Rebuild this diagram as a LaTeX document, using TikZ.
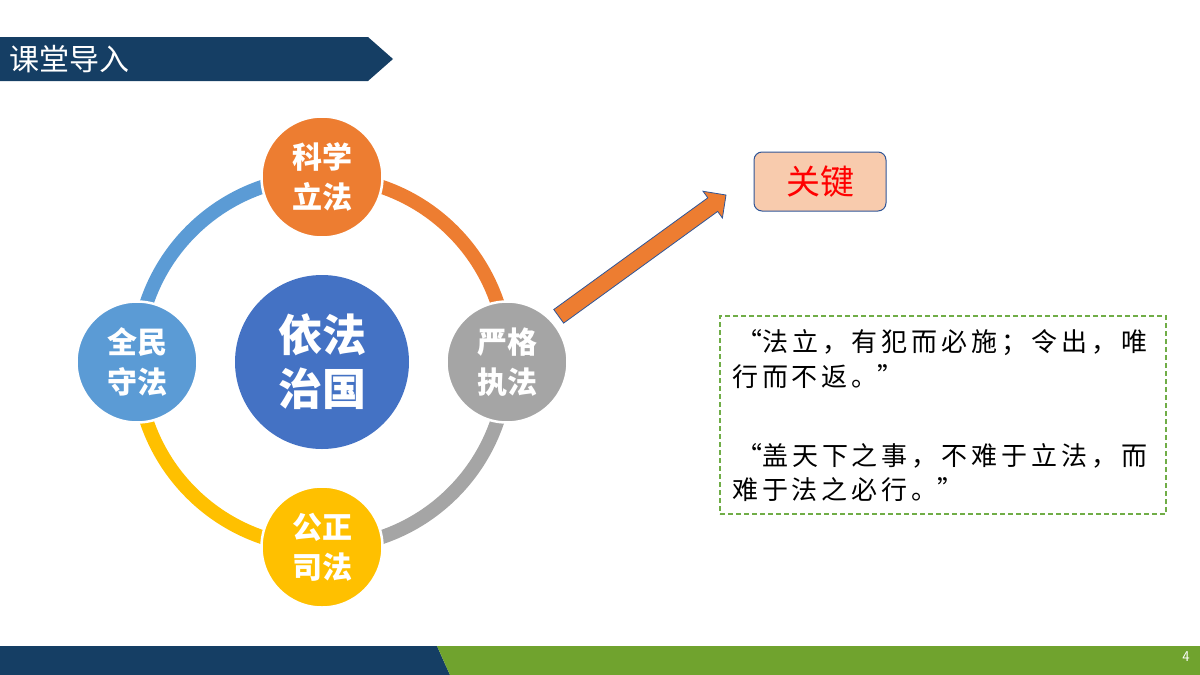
\documentclass[tikz,border=0pt]{standalone}
\usepackage{fontspec}
\newfontfamily\cjk{Noto Sans CJK SC}
\newfontfamily\cjkq[LetterSpace=15]{Noto Sans CJK SC}
\usetikzlibrary{calc,backgrounds}
\definecolor{navy}{RGB}{21,62,100}
\definecolor{grn}{RGB}{112,163,46}
\definecolor{orng}{RGB}{237,125,49}
\definecolor{gry}{RGB}{165,165,165}
\definecolor{yel}{RGB}{255,192,0}
\definecolor{lblue}{RGB}{91,155,213}
\definecolor{cblue}{RGB}{68,114,196}
\definecolor{peach}{RGB}{248,203,173}
\definecolor{boxblue}{RGB}{47,85,151}
\definecolor{dgreen}{RGB}{112,173,71}
\definecolor{keyred}{RGB}{255,0,0}
\begin{document}
\begin{tikzpicture}[x=1pt,y=-1pt,
  sat/.style={circle, minimum size=121pt, inner sep=0pt, draw=white, line width=2.5pt,
    text=white, font=\cjk\bfseries\fontsize{30}{40}\selectfont, align=center},
  ring/.style={line width=14pt},
  quote/.style={anchor=west, inner sep=0pt, align=left, font=\cjkq\fontsize{26}{34.5}\selectfont}]
\useasboundingbox (0,0) rectangle (1200,675);
% header
\fill[navy] (0,37) -- (368,37) -- (393,59) -- (368,81) -- (0,81) -- cycle;
\node[anchor=west, inner sep=0pt, text=white, font=\cjk\fontsize{30}{31}\selectfont] (title) at (9,59) {课堂导入};
% bottom bar
\fill[navy] (0,646) -- (437,646) -- (450,675) -- (0,675) -- cycle;
\fill[grn] (437,646) -- (1200,646) -- (1200,675) -- (450,675) -- cycle;
\node[text=white, inner sep=0pt, font=\sffamily\fontsize{15}{15}\selectfont] (pg) at (1186,657) {4};
% circles
\node[circle, minimum size=174pt, inner sep=0pt, fill=cblue, text=white, align=center,
  font=\cjk\bfseries\fontsize{44}{54}\selectfont] (rule) at (322,362) {依法\\治国};
\node[sat, fill=orng] (sci) at (322,177) {科学\\立法};
\node[sat, fill=gry] (strict) at (507,362) {严格\\执法};
\node[sat, fill=yel] (fair) at (322,547) {公正\\司法};
\node[sat, fill=lblue] (people) at (137,362) {全民\\守法};
\begin{scope}[on background layer]
\draw[ring, orng] (sci.center) arc[start angle=90, end angle=0, radius=185pt];
\draw[ring, gry] (strict.center) arc[start angle=0, end angle=-90, radius=185pt];
\draw[ring, yel] (fair.center) arc[start angle=270, end angle=180, radius=185pt];
\draw[ring, lblue] (people.center) arc[start angle=180, end angle=90, radius=185pt];
\end{scope}
% key box
\node[draw=boxblue, line width=1pt, fill=peach, rounded corners=8pt, minimum width=132pt,
  minimum height=59pt, inner sep=0pt, text=keyred, font=\cjk\fontsize{34}{36}\selectfont] (key) at (820,181.5) {关键};
% arrow
\coordinate (T) at (558.7,316.3);
\coordinate (P) at (726,195);
\coordinate (H) at ($(P)!16.4pt!(T)$);
\filldraw[fill=orng, draw=boxblue, line width=0.8pt, line join=miter]
  ($(T)!8.4pt!90:(P)$) -- ($(H)!8.4pt!-90:(T)$) -- ($(H)!16.5pt!-90:(T)$) -- (P)
  -- ($(H)!16.5pt!90:(T)$) -- ($(H)!8.4pt!90:(T)$) -- ($(T)!8.4pt!-90:(P)$) -- cycle;
% quote box
\node[draw=dgreen, line width=1.3pt, dash pattern=on 5pt off 3pt, minimum width=446pt,
  minimum height=198pt, inner sep=0pt] (qbox) at (943,415) {};
\node[quote] (q1) at (732,359) {\makebox[30pt][r]{“}法立，有犯而必施；令出，唯\\行而不返。\makebox[30pt][l]{”}};
\node[quote] (q2) at (732,472.5) {\makebox[30pt][r]{“}盖天下之事，不难于立法，而\\难于法之必行。\makebox[30pt][l]{”}};
\end{tikzpicture}
\end{document}
